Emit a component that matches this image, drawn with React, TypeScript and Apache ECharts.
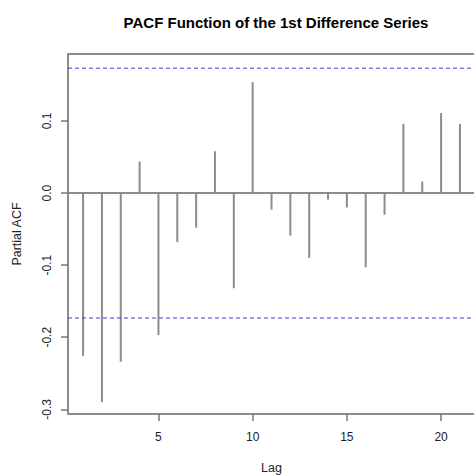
import React, { useEffect, useRef } from "react";
import * as echarts from "echarts";

const lags = [1, 2, 3, 4, 5, 6, 7, 8, 9, 10, 11, 12, 13, 14, 15, 16, 17, 18, 19, 20, 21];
const pacfValues = [
  -0.226, -0.290, -0.234, 0.044, -0.197, -0.068, -0.048, 0.058, -0.132, 0.154,
  -0.023, -0.059, -0.090, -0.009, -0.020, -0.103, -0.030, 0.096, 0.016, 0.111, 0.096,
];
const confBounds = [0.1733, -0.1733];
const xRange = [0.2, 21.8];
const xTicks = [5, 10, 15, 20];
const yTicks = [-0.3, -0.2, -0.1, 0.0, 0.1];

const FONT = "'Liberation Sans', Arial, sans-serif";
const GRAY = "#8c8c8c";

export default function App() {
  const ref = useRef<HTMLDivElement>(null);
  useEffect(() => {
    if (!ref.current) return;
    const chart = echarts.init(ref.current, undefined, { renderer: "svg" });
    chart.setOption({
      animation: false,
      backgroundColor: "#ffffff",
      title: {
        text: "PACF Function of the 1st Difference Series",
        left: 271,
        top: 10,
        textAlign: "center",
        textStyle: { fontFamily: FONT, fontSize: 15, fontWeight: "bold", color: "#000" },
      },
      grid: {
        left: 68,
        top: 54,
        right: -1,
        bottom: 62,
        outerBoundsMode: "none",
        containLabel: false,
        show: true,
        borderColor: GRAY,
        borderWidth: 2,
        backgroundColor: "transparent",
      },
      xAxis: {
        type: "value",
        min: xRange[0],
        max: xRange[1],
        name: "Lag",
        nameLocation: "middle",
        nameGap: 47,
        nameTextStyle: { fontFamily: FONT, fontSize: 12.5, color: "#222" },
        splitLine: { show: false },
        axisLine: { show: false, onZero: false },
        axisTick: {
          show: true,
          length: 7,
          customValues: xTicks,
          lineStyle: { color: "#777", width: 1.5 },
        },
        axisLabel: {
          customValues: xTicks,
          margin: 17,
          fontFamily: FONT,
          fontSize: 12,
          color: "#222",
        },
      },
      yAxis: {
        type: "value",
        min: -0.3065,
        max: 0.193,
        name: "Partial ACF",
        nameLocation: "middle",
        nameGap: 45,
        nameTextStyle: { fontFamily: FONT, fontSize: 12.5, color: "#222" },
        splitLine: { show: false },
        axisLine: { show: false, onZero: false },
        axisTick: {
          show: true,
          length: 7,
          customValues: yTicks,
          lineStyle: { color: "#777", width: 1.5 },
        },
        axisLabel: {
          customValues: yTicks,
          rotate: 90,
          margin: 15,
          fontFamily: FONT,
          fontSize: 12,
          color: "#222",
          formatter: (v: number) => v.toFixed(1),
        },
      },
      series: [
        {
          type: "line",
          data: xRange.map((x) => [x, 0]),
          symbol: "none",
          silent: true,
          lineStyle: { color: GRAY, width: 2 },
        },
        ...confBounds.map((b) => ({
          type: "line",
          data: xRange.map((x) => [x, b]),
          symbol: "none",
          silent: true,
          lineStyle: { color: "#3a3ae6", width: 1, type: [4, 3] },
        })),
        {
          type: "bar",
          data: lags.map((l, i) => [l, pacfValues[i]]),
          barWidth: 2,
          itemStyle: { color: GRAY },
        },
      ],
    });
    return () => chart.dispose();
  }, []);
  return (
    <div
      ref={ref}
      style={{ position: "fixed", left: 0, top: 0, width: 474, height: 476 }}
    />
  );
}
